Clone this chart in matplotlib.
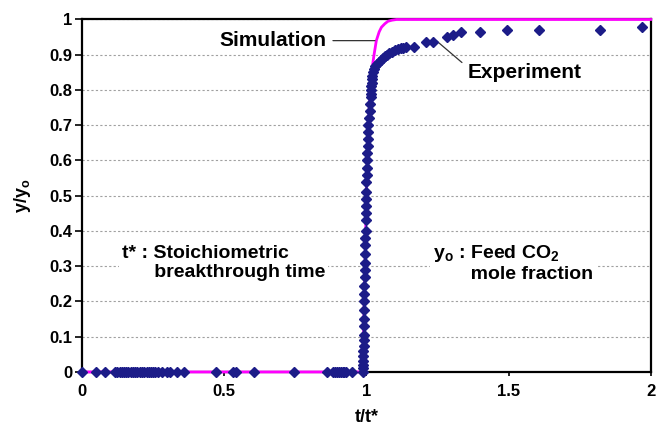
import matplotlib
matplotlib.use("Agg")
import matplotlib.pyplot as plt

plt.rcParams['font.family'] = ['Liberation Sans', 'DejaVu Sans']
plt.rcParams['font.weight'] = 'bold'
plt.rcParams['mathtext.fontset'] = 'custom'
plt.rcParams['mathtext.rm'] = 'Liberation Sans:bold'
plt.rcParams['mathtext.bf'] = 'Liberation Sans:bold'

# experiment: flat part before breakthrough
exp_x_flat = [0.0, 0.049, 0.081, 0.116, 0.124, 0.132, 0.140, 0.147, 0.155, 0.163,
              0.171, 0.179, 0.187, 0.195, 0.203, 0.211, 0.219, 0.227, 0.235, 0.243,
              0.250, 0.257, 0.268, 0.280, 0.300, 0.309, 0.335, 0.358, 0.471, 0.530,
              0.541, 0.605, 0.745, 0.860, 0.883, 0.890, 0.897, 0.903, 0.910, 0.917,
              0.923, 0.930, 0.951, 0.987]
exp_y_flat = [0.0] * len(exp_x_flat)

# experiment: breakthrough front and tail
exp_x_rise = [0.988, 0.988, 0.989, 0.989, 0.989, 0.990, 0.990, 0.990, 0.991, 0.991,
              0.992, 0.992, 0.993, 0.993, 0.994, 0.994, 0.995, 0.995, 0.996, 0.996,
              0.997, 0.997, 0.998, 0.998, 0.999, 1.000, 1.000, 1.001, 1.002, 1.002,
              1.003, 1.004, 1.005, 1.006, 1.007, 1.009, 1.011, 1.013, 1.015, 1.016,
              1.017, 1.018, 1.019, 1.020, 1.021, 1.022,
              1.027, 1.032, 1.037, 1.043, 1.050, 1.057, 1.064, 1.072, 1.080, 1.090,
              1.100, 1.110, 1.120, 1.130, 1.140, 1.166, 1.210, 1.236, 1.285, 1.306,
              1.334, 1.400, 1.496, 1.606, 1.820, 1.970]
exp_y_rise = [0.010, 0.020, 0.030, 0.045, 0.060, 0.075, 0.090, 0.105, 0.130, 0.150,
              0.175, 0.200, 0.220, 0.245, 0.270, 0.290, 0.310, 0.335, 0.360, 0.380,
              0.400, 0.430, 0.450, 0.470, 0.490, 0.510, 0.540, 0.560, 0.580, 0.600,
              0.620, 0.640, 0.660, 0.680, 0.700, 0.720, 0.740, 0.760, 0.780, 0.790,
              0.800, 0.810, 0.820, 0.830, 0.840, 0.850,
              0.860, 0.867, 0.873, 0.879, 0.885, 0.890, 0.895, 0.900, 0.904, 0.909,
              0.913, 0.916, 0.918, 0.920, 0.921, 0.922, 0.935, 0.935, 0.949, 0.955,
              0.964, 0.964, 0.970, 0.970, 0.970, 0.980]

exp_x = exp_x_flat + exp_x_rise
exp_y = exp_y_flat + exp_y_rise

# simulation curve
sim_x = [0.0, 0.985, 0.990, 0.995, 1.000, 1.005, 1.010, 1.018, 1.027, 1.035,
         1.045, 1.053, 1.065, 1.076, 1.090, 1.106, 2.0]
sim_y = [0.0, 0.0, 0.10, 0.30, 0.50, 0.65, 0.75, 0.85, 0.90, 0.94,
         0.965, 0.978, 0.988, 0.995, 0.998, 1.0, 1.0]

x_ticks = [0, 0.5, 1, 1.5, 2]
x_tick_labels = ['0', '0.5', '1', '1.5', '2']
y_ticks = [0, 0.1, 0.2, 0.3, 0.4, 0.5, 0.6, 0.7, 0.8, 0.9, 1]
y_tick_labels = ['0', '0.1', '0.2', '0.3', '0.4', '0.5', '0.6', '0.7', '0.8', '0.9', '1']

fig = plt.figure(figsize=(6.56, 4.33), dpi=100)
ax = fig.add_axes([0.125, 0.141, 0.867, 0.814])

ax.set_xlim(0, 2)
ax.set_ylim(0, 1)
ax.set_xticks(x_ticks)
ax.set_xticklabels(x_tick_labels)
ax.set_yticks(y_ticks)
ax.set_yticklabels(y_tick_labels)
ax.tick_params(axis='y', direction='out', length=5, width=1.2, pad=2, labelsize=12)
ax.tick_params(axis='x', direction='out', length=3, width=1.2, pad=6, labelsize=12)
for lab in ax.get_xticklabels() + ax.get_yticklabels():
    lab.set_fontweight('bold')

for s in ax.spines.values():
    s.set_linewidth(1.6)
    s.set_color('black')

ax.yaxis.grid(True, color='#a0a0a0', linestyle=(0, (2, 2)), linewidth=0.8)
ax.set_axisbelow(True)

ax.plot(sim_x, sim_y, color='#ff00ff', lw=2, zorder=3, clip_on=False)
ax.plot(exp_x, exp_y, 'D', color='#1c1c88', ms=4.6, zorder=4, clip_on=False)

ax.annotate('Simulation', xy=(1.03, 0.94), xytext=(0.858, 0.94),
            ha='right', va='center', fontsize=15, fontweight='bold',
            arrowprops=dict(arrowstyle='-', color='#333333', lw=0.9,
                            relpos=(1, 0.5), shrinkA=3, shrinkB=0))
ax.annotate('Experiment', xy=(1.24, 0.944), xytext=(1.357, 0.85),
            ha='left', va='center', fontsize=15, fontweight='bold',
            arrowprops=dict(arrowstyle='-', color='#333333', lw=0.9,
                            relpos=(0, 0.75), shrinkA=3, shrinkB=2))

ax.text(0.14, 0.309, 't* : Stoichiometric\n      breakthrough time',
        ha='left', va='center', fontsize=14, fontweight='bold', linespacing=1.1,
        bbox=dict(fc='white', ec='none', pad=2), zorder=2)
ax.text(1.234, 0.309, 'y$_\\mathrm{o}$ : Feed CO$_\\mathrm{2}$\n       mole fraction',
        ha='left', va='center', fontsize=14, fontweight='bold', linespacing=1.1,
        bbox=dict(fc='white', ec='none', pad=2), zorder=2)

ax.set_xlabel('t/t*', fontsize=13, fontweight='bold', labelpad=7)
ax.set_ylabel('y/y$_\\mathrm{o}$', fontsize=13, fontweight='bold', labelpad=12)

fig.savefig('out.png', dpi=100)
